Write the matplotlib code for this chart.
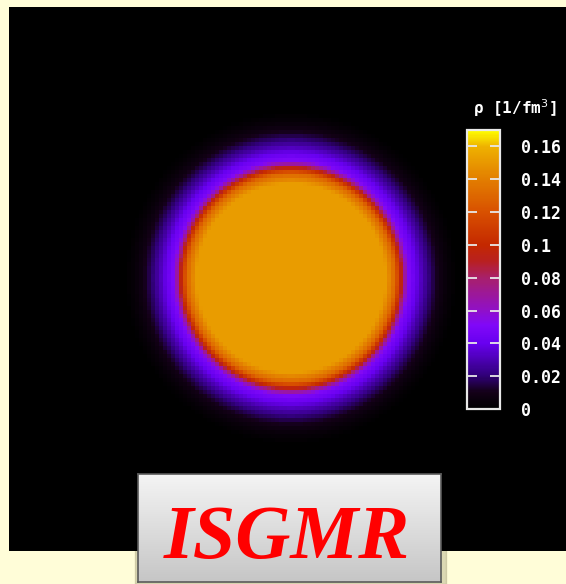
"""
Ground-state density of a heavy nucleus shown as a 2D colour map,
with a density scale bar and an ISGMR caption box.
"""
import numpy as np
import matplotlib.pyplot as plt
from matplotlib.colors import LinearSegmentedColormap
from matplotlib.patches import Rectangle

# radial density profile (fm, 1/fm^3)
radius_fm = [0.0, 5.9, 6.5, 6.85, 7.1, 7.35, 7.8, 8.25, 8.75, 9.25, 9.75, 10.4]
density = [0.152, 0.152, 0.13, 0.10, 0.07, 0.05, 0.04, 0.029, 0.018, 0.009, 0.004, 0.0]

cbar_ticks = [0.0, 0.02, 0.04, 0.06, 0.08, 0.10, 0.12, 0.14, 0.16]
cbar_labels = ['0', '0.02', '0.04', '0.06', '0.08', '0.1', '0.12', '0.14', '0.16']
rho_max = 0.17
cell = 0.25  # fm per pixel of the density grid

# black -> violet -> red -> orange -> yellow scale
cmap = LinearSegmentedColormap.from_list('dens', [
    (0.00, '#000000'), (0.06, '#140018'), (0.118, '#300078'),
    (0.235, '#6800f0'), (0.30, '#8008f8'), (0.353, '#9010c8'),
    (0.47, '#a8206a'), (0.53, '#b82020'), (0.588, '#c42800'),
    (0.706, '#d85000'), (0.82, '#e27c00'), (0.94, '#eeb000'),
    (1.00, '#ffff00')])

W, H = 566, 584


def box(x0, y0, x1, y1):
    # pixel box (from top-left) -> figure fraction rect
    return [x0 / W, 1 - y1 / H, (x1 - x0) / W, (y1 - y0) / H]


fig = plt.figure(figsize=(W / 100, H / 100), dpi=100, facecolor='#fffdd8')

# density map
ax = fig.add_axes(box(9, 7, 566, 551))
ax.set_facecolor('black')
edges = np.arange(-18.0, 18.0 + cell / 2, cell)
mid = 0.5 * (edges[:-1] + edges[1:])
X, Y = np.meshgrid(mid, mid)
rho = np.interp(np.hypot(X, Y), radius_fm, density)
mesh = ax.pcolormesh(edges, edges, rho, cmap=cmap, vmin=0, vmax=rho_max)
px = 16.0  # screen pixels per fm
ax.set_xlim((9 - 291) / px, (566 - 291) / px)
ax.set_ylim((278 - 551) / px, (278 - 7) / px)
ax.set_xticks([])
ax.set_yticks([])
for s in ax.spines.values():
    s.set_visible(False)

# colour scale
cax = fig.add_axes(box(467, 130, 500, 409))
cb = fig.colorbar(mesh, cax=cax, ticks=cbar_ticks)
cb.set_ticklabels(cbar_labels)
cb.outline.set_edgecolor('#e8e8e8')
cb.outline.set_linewidth(1.6)
cax.tick_params(direction='in', length=7, width=1.3, color='#e8e8e8',
                left=True, right=True, labelleft=False, labelright=True,
                labelcolor='white', labelsize=12, pad=15)
for t in cax.get_yticklabels():
    t.set_family('DejaVu Sans Mono')
    t.set_weight('bold')
fig.text(515 / W, 1 - 108 / H, 'ρ [1/fm$^3$]', color='white',
         ha='center', va='center', family='DejaVu Sans Mono',
         weight='bold', size=11.5)

# caption box with a soft shadow behind it
shadow = Rectangle((135 / W, 0), 311 / W, 1 - 474 / H,
                   transform=fig.transFigure, color='#8a8460',
                   alpha=0.3, zorder=-1)
fig.patches.append(shadow)
bax = fig.add_axes(box(138, 474, 441, 582))
bax.set_zorder(2)
grad = np.linspace(0, 1, 100).reshape(-1, 1)
bax.imshow(grad, aspect='auto', extent=(0, 1, 0, 1),
           cmap=LinearSegmentedColormap.from_list('g', ['#f4f4f4', '#c6c6c6']))
bax.set_xlim(0, 1)
bax.set_ylim(0, 1)
bax.set_xticks([])
bax.set_yticks([])
for s in bax.spines.values():
    s.set_edgecolor('#5a5a5a')
    s.set_linewidth(1.2)
bax.text(0.49, 0.222, 'ISGMR', color='#ff0000', ha='center', va='baseline',
         family='Liberation Serif', weight='bold', style='italic', size=55)

fig.savefig('out.png', dpi=100, facecolor=fig.get_facecolor())
